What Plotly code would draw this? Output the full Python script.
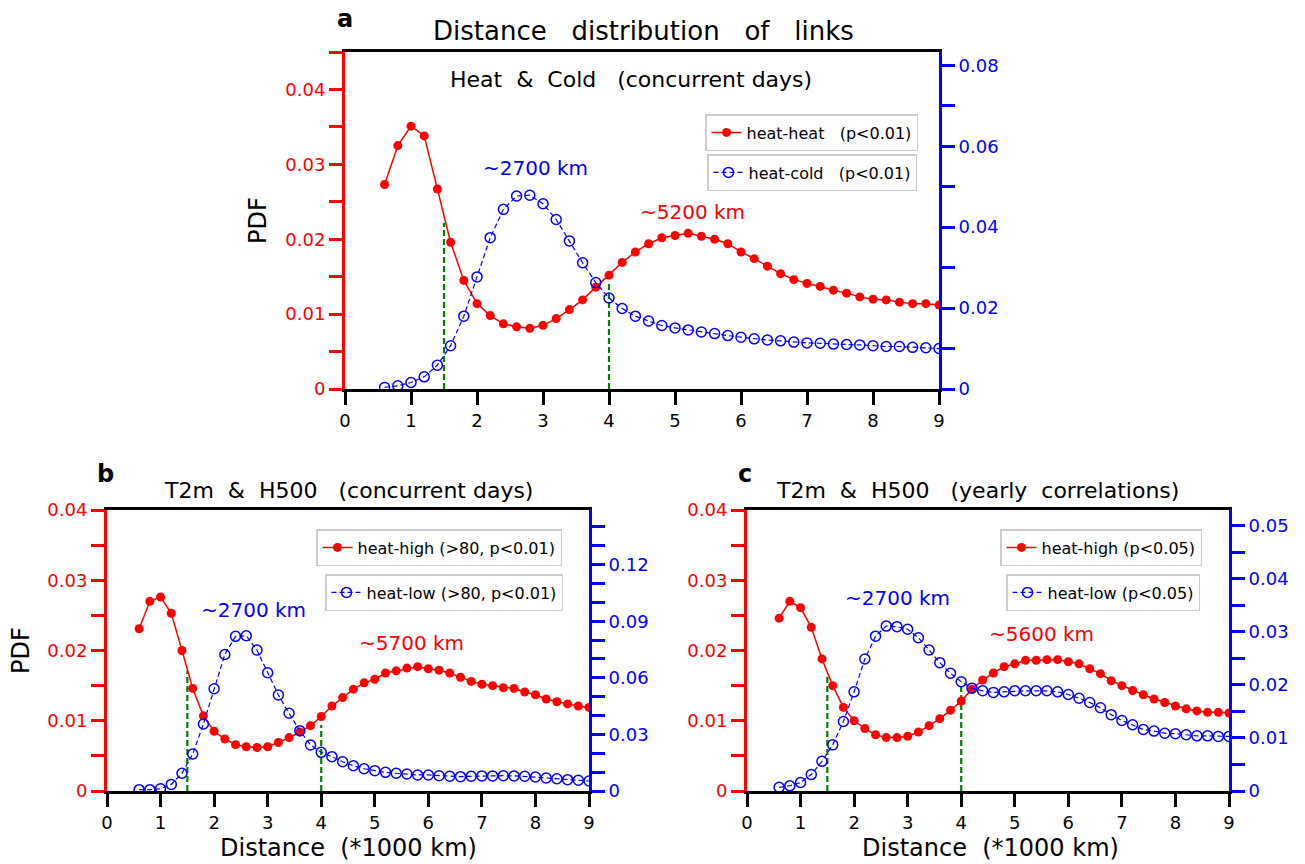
import plotly.graph_objects as go

# ---------------- data ----------------
distance = [0.6, 0.8, 1.0, 1.2, 1.4, 1.6, 1.8, 2.0, 2.2, 2.4, 2.6, 2.8, 3.0, 3.2, 3.4,
            3.6, 3.8, 4.0, 4.2, 4.4, 4.6, 4.8, 5.0, 5.2, 5.4, 5.6, 5.8, 6.0, 6.2, 6.4,
            6.6, 6.8, 7.0, 7.2, 7.4, 7.6, 7.8, 8.0, 8.2, 8.4, 8.6, 8.8, 9.0]

# panel a : heat & cold (concurrent days)
a_heat_heat = [0.0273, 0.0325, 0.0351, 0.0338, 0.0267, 0.0196, 0.0145, 0.0114, 0.0098, 0.0087,
               0.0083, 0.0081, 0.0085, 0.0094, 0.0106, 0.0119, 0.0136, 0.0152, 0.0169, 0.0183,
               0.0194, 0.0202, 0.0205, 0.0208, 0.0204, 0.0200, 0.0194, 0.0183, 0.0174, 0.0164,
               0.0154, 0.0146, 0.0141, 0.0137, 0.0132, 0.0128, 0.0123, 0.0120, 0.0119, 0.0116,
               0.0114, 0.0114, 0.0112]
a_heat_cold = [0.0004, 0.0008, 0.0016, 0.0030, 0.0059, 0.0107, 0.0180, 0.0277, 0.0374, 0.0444,
               0.0477, 0.0479, 0.0458, 0.0419, 0.0366, 0.0312, 0.0263, 0.0225, 0.0199, 0.0180,
               0.0168, 0.0157, 0.0151, 0.0146, 0.0141, 0.0137, 0.0132, 0.0128, 0.0124, 0.0121,
               0.0119, 0.0116, 0.0114, 0.0113, 0.0111, 0.0110, 0.0109, 0.0107, 0.0105, 0.0105,
               0.0103, 0.0102, 0.0100]

# panel b : T2m & H500 (concurrent days)
b_heat_high = [0.0231, 0.0270, 0.0276, 0.0253, 0.0200, 0.0146, 0.0107, 0.0085, 0.0074, 0.0066,
               0.0063, 0.0062, 0.0063, 0.0069, 0.0076, 0.0084, 0.0093, 0.0106, 0.0121, 0.0133,
               0.0145, 0.0154, 0.0159, 0.0168, 0.0171, 0.0175, 0.0177, 0.0174, 0.0172, 0.0168,
               0.0162, 0.0156, 0.0152, 0.0150, 0.0147, 0.0146, 0.0141, 0.0137, 0.0131, 0.0127,
               0.0124, 0.0121, 0.0119]
b_heat_low = [0.0007, 0.0007, 0.0012, 0.0035, 0.0094, 0.0196, 0.0355, 0.0542, 0.0724, 0.0820,
              0.0823, 0.0747, 0.0627, 0.0509, 0.0412, 0.0320, 0.0244, 0.0205, 0.0182, 0.0155,
              0.0134, 0.0118, 0.0108, 0.0099, 0.0094, 0.0090, 0.0085, 0.0085, 0.0081, 0.0078,
              0.0076, 0.0078, 0.0080, 0.0080, 0.0081, 0.0080, 0.0078, 0.0074, 0.0069, 0.0065,
              0.0060, 0.0057, 0.0053]

# panel c : T2m & H500 (yearly correlations)
c_heat_high = [0.0246, 0.0270, 0.0261, 0.0233, 0.0188, 0.0150, 0.0119, 0.0100, 0.0089, 0.0080,
               0.0076, 0.0076, 0.0078, 0.0084, 0.0093, 0.0103, 0.0115, 0.0128, 0.0145, 0.0158,
               0.0168, 0.0177, 0.0181, 0.0186, 0.0186, 0.0187, 0.0187, 0.0184, 0.0181, 0.0174,
               0.0167, 0.0157, 0.0150, 0.0143, 0.0137, 0.0131, 0.0126, 0.0121, 0.0117, 0.0114,
               0.0112, 0.0112, 0.0111]
c_heat_low = [0.0007, 0.0010, 0.0016, 0.0031, 0.0056, 0.0087, 0.0131, 0.0187, 0.0249, 0.0292,
              0.0311, 0.0310, 0.0305, 0.0289, 0.0266, 0.0242, 0.0222, 0.0206, 0.0194, 0.0189,
              0.0186, 0.0187, 0.0189, 0.0189, 0.0189, 0.0189, 0.0187, 0.0182, 0.0175, 0.0167,
              0.0157, 0.0144, 0.0133, 0.0125, 0.0116, 0.0113, 0.0109, 0.0108, 0.0106, 0.0104,
              0.0104, 0.0103, 0.0103]

# green dashed markers (x position and top value on left axis)
vline_x = [1.5, 4.0]
a_vline_top = [0.0222, 0.0142]
b_vline_top = [0.0171, 0.0094]
c_vline_top = [0.0166, 0.0149]

# tick labels
x_ticks = [0, 1, 2, 3, 4, 5, 6, 7, 8, 9]
x_ticklabels = ['0', '1', '2', '3', '4', '5', '6', '7', '8', '9']
left_ticks = [0, 0.005, 0.01, 0.015, 0.02, 0.025, 0.03, 0.035, 0.04, 0.045]
left_ticklabels = ['0', '', '0.01', '', '0.02', '', '0.03', '', '0.04', '']
a_right_ticks = [0, 0.01, 0.02, 0.03, 0.04, 0.05, 0.06, 0.07, 0.08]
a_right_ticklabels = ['0', '', '0.02', '', '0.04', '', '0.06', '', '0.08']
b_right_ticks = [0, 0.01, 0.02, 0.03, 0.04, 0.05, 0.06, 0.07, 0.08, 0.09, 0.10, 0.11, 0.12, 0.13, 0.14]
b_right_ticklabels = ['0', '', '', '0.03', '', '', '0.06', '', '', '0.09', '', '', '0.12', '', '']
c_right_ticks = [0, 0.005, 0.01, 0.015, 0.02, 0.025, 0.03, 0.035, 0.04, 0.045, 0.05]
c_right_ticklabels = ['0', '', '0.01', '', '0.02', '', '0.03', '', '0.04', '', '0.05']

# ---------------- figure ----------------
W, H = 1305, 864
FONT = "DejaVu Sans"
RED = "#ff0000"
BLUE = "#0000ff"
GREEN = "#008000"
NB = "\u00a0"

def px_x(p):
    return p / W

def px_y(p):
    return 1 - p / H

fig = go.Figure()

panels = [
    dict(x='x', yl='y', yr='y2', red=a_heat_heat, blue=a_heat_cold, vtop=a_vline_top,
         red_name='heat-heat' + NB * 3 + '(p<0.01)', blue_name='heat-cold' + NB * 3 + '(p<0.01)',
         lg1='legend', lg2='legend2'),
    dict(x='x2', yl='y3', yr='y4', red=b_heat_high, blue=b_heat_low, vtop=b_vline_top,
         red_name='heat-high (>80, p<0.01)', blue_name='heat-low (>80, p<0.01)',
         lg1='legend3', lg2='legend4'),
    dict(x='x3', yl='y5', yr='y6', red=c_heat_high, blue=c_heat_low, vtop=c_vline_top,
         red_name='heat-high (p<0.05)', blue_name='heat-low (p<0.05)',
         lg1='legend5', lg2='legend6'),
]

for p in panels:
    for xv, top in zip(vline_x, p['vtop']):
        fig.add_trace(go.Scatter(x=[xv, xv], y=[0, top], mode='lines', xaxis=p['x'], yaxis=p['yl'],
                                 line=dict(color=GREEN, width=2.2, dash='6px,3px'),
                                 showlegend=False, hoverinfo='skip'))
    fig.add_trace(go.Scatter(x=distance, y=p['blue'], mode='lines+markers', name=p['blue_name'],
                             xaxis=p['x'], yaxis=p['yr'], legend=p['lg2'],
                             line=dict(color=BLUE, width=1.2, dash='5px,3px'),
                             marker=dict(symbol='circle-open', size=10, color=BLUE,
                                         line=dict(width=1.5, color=BLUE))))
    fig.add_trace(go.Scatter(x=distance, y=p['red'], mode='lines+markers', name=p['red_name'],
                             xaxis=p['x'], yaxis=p['yl'], legend=p['lg1'],
                             line=dict(color=RED, width=1.5),
                             marker=dict(symbol='circle', size=9, color=RED)))

TICKFONT = 18

def xaxis(domain, anchor):
    return dict(domain=domain, anchor=anchor, range=[0, 9], tickvals=x_ticks, ticktext=x_ticklabels,
                ticks='outside', ticklen=13, tickwidth=2.5, tickcolor='black',
                showline=True, linecolor='black', linewidth=3, mirror=True,
                showgrid=False, zeroline=False, automargin=False,
                tickfont=dict(family=FONT, size=TICKFONT, color='black'))

def yleft(domain, anchor, rng):
    return dict(domain=domain, anchor=anchor, range=rng, tickvals=left_ticks, ticktext=left_ticklabels,
                ticks='outside', ticklen=13, tickwidth=2.5, tickcolor=RED, automargin=False,
                showline=True, linecolor=RED, linewidth=3, showgrid=False, zeroline=False,
                tickfont=dict(family=FONT, size=TICKFONT, color=RED))

def yright(overlay, anchor, rng, tv, tt):
    return dict(overlaying=overlay, anchor=anchor, side='right', range=rng, tickvals=tv, ticktext=tt,
                ticks='outside', ticklen=13, tickwidth=2.5, tickcolor=BLUE, automargin=False,
                showline=True, linecolor=BLUE, linewidth=3, showgrid=False, zeroline=False,
                tickfont=dict(family=FONT, size=TICKFONT, color=BLUE))

dom_a_x = [px_x(345), px_x(939)]
dom_a_y = [px_y(389), px_y(52)]
dom_b_x = [px_x(107), px_x(589)]
dom_c_x = [px_x(747), px_x(1229)]
dom_bc_y = [px_y(791), px_y(510)]

def legend_box(xr, yt):
    return dict(x=px_x(xr), y=px_y(yt), xanchor='right', yanchor='top', xref='paper', yref='paper',
                bgcolor='white', bordercolor='#cccccc', borderwidth=1.5,
                font=dict(family=FONT, size=16, color='black'), itemwidth=30,
                tracegroupgap=0)

annotations = []

def add_text(text, x, y, size, color='black', bold=False, xref='paper', yref='paper', angle=0):
    if bold:
        text = '<b>' + text + '</b>'
    annotations.append(dict(text=text, x=x, y=y, xref=xref, yref=yref, showarrow=False,
                            xanchor='center', yanchor='middle', textangle=angle,
                            font=dict(family=FONT, size=size, color=color)))

# panel a texts
add_text('a', px_x(345), px_y(19), 24, bold=True)
add_text('Distance' + NB * 3 + 'distribution' + NB * 3 + 'of' + NB * 3 + 'links', px_x(643), px_y(31), 26)
add_text('Heat' + NB * 2 + '&amp;' + NB * 2 + 'Cold' + NB * 3 + '(concurrent days)', px_x(631), px_y(79), 22)
add_text('PDF', px_x(258), px_y(221), 24, angle=-90)
add_text('~2700 km', 2.88, 0.0295, 20, color=BLUE, xref='x', yref='y')
add_text('~5200 km', 5.26, 0.0236, 20, color=RED, xref='x', yref='y')

# panel b texts
add_text('b', px_x(105), px_y(474), 24, bold=True)
add_text('T2m' + NB * 2 + '&amp;' + NB * 2 + 'H500' + NB * 3 + '(concurrent days)', px_x(348), px_y(490), 22)
add_text('PDF', px_x(21), px_y(651), 24, angle=-90)
add_text('~2700 km', 2.74, 0.0258, 20, color=BLUE, xref='x2', yref='y3')
add_text('~5700 km', 5.69, 0.0210, 20, color=RED, xref='x2', yref='y3')
add_text('Distance' + NB * 2 + '(*1000 km)', px_x(348), px_y(848), 24)

# panel c texts
add_text('c', px_x(745), px_y(474), 24, bold=True)
add_text('T2m' + NB * 2 + '&amp;' + NB * 2 + 'H500' + NB * 3 + '(yearly' + NB * 2 + 'correlations)', px_x(977), px_y(490), 22)
add_text('~2700 km', 2.81, 0.0275, 20, color=BLUE, xref='x3', yref='y5')
add_text('~5600 km', 5.50, 0.0223, 20, color=RED, xref='x3', yref='y5')
add_text('Distance' + NB * 2 + '(*1000 km)', px_x(990), px_y(848), 24)

fig.update_layout(
    width=W, height=H,
    margin=dict(l=0, r=0, t=0, b=0, pad=0, autoexpand=False),
    paper_bgcolor='white', plot_bgcolor='white',
    font=dict(family=FONT, color='black'),
    xaxis=xaxis(dom_a_x, 'y'),
    yaxis=yleft(dom_a_y, 'x', [0, 0.045]),
    yaxis2=yright('y', 'x', [0, 0.0833], a_right_ticks, a_right_ticklabels),
    xaxis2=xaxis(dom_b_x, 'y3'),
    yaxis3=yleft(dom_bc_y, 'x2', [0, 0.04]),
    yaxis4=yright('y3', 'x2', [0, 0.149], b_right_ticks, b_right_ticklabels),
    xaxis3=xaxis(dom_c_x, 'y5'),
    yaxis5=yleft(dom_bc_y, 'x3', [0, 0.04]),
    yaxis6=yright('y5', 'x3', [0, 0.053], c_right_ticks, c_right_ticklabels),
    legend=legend_box(918, 114),
    legend2=legend_box(917, 154),
    legend3=legend_box(562, 529),
    legend4=legend_box(563, 574),
    legend5=legend_box(1202, 529),
    legend6=legend_box(1200, 574),
    annotations=annotations,
    showlegend=True,
)

fig.write_html("out.html", config={"displayModeBar": False},
               post_script="document.body.style.margin='0px'; document.body.style.overflow='hidden';")
